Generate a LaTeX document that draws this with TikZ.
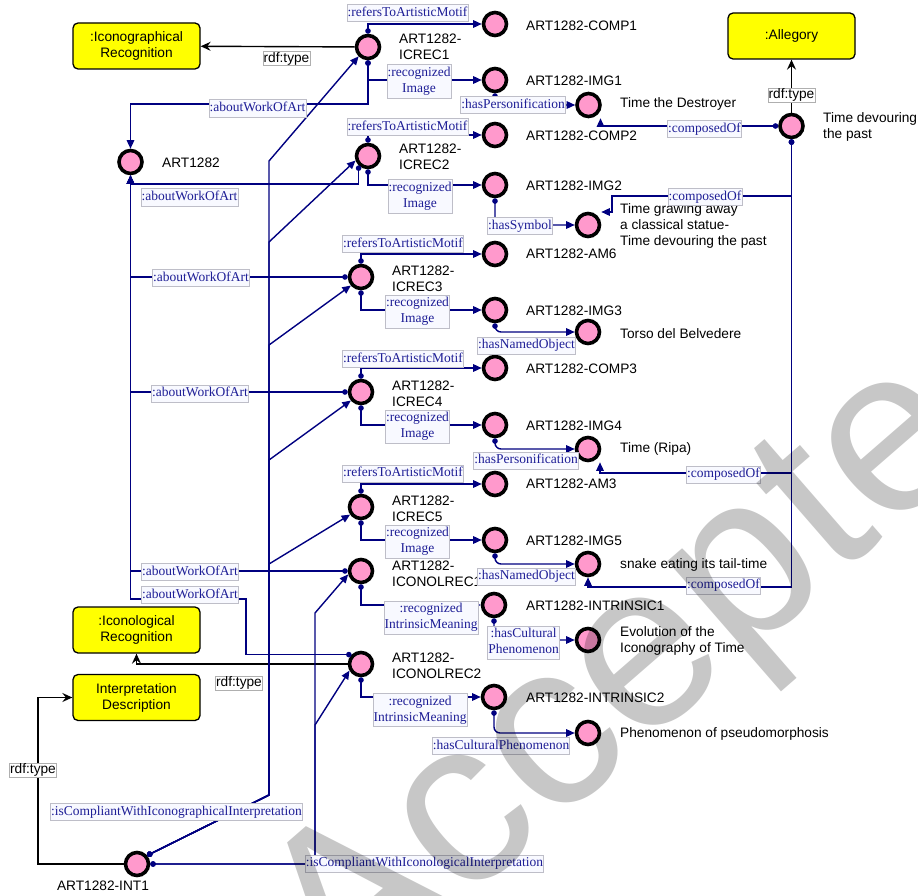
\documentclass[tikz,border=0pt]{standalone}
\usepackage{fontspec}
\setmainfont{Liberation Sans}
\newfontfamily\relfont{Liberation Serif}
\usetikzlibrary{arrows.meta}
\definecolor{nodepink}{RGB}{255,153,204}
\definecolor{classyellow}{RGB}{255,255,0}
\definecolor{relnavy}{RGB}{0,0,128}
\definecolor{reltext}{RGB}{30,30,150}
\definecolor{relbg}{RGB}{248,249,255}
\definecolor{relframe}{RGB}{190,190,200}
\definecolor{typeframe}{RGB}{175,175,175}

\begin{document}
\begin{tikzpicture}[x=1pt,y=-1pt,
  inst/.style={circle, draw=black, line width=3.6pt, fill=nodepink,
    minimum size=23pt, inner sep=0pt},
  cls/.style={draw=black, line width=1.3pt, fill=classyellow,
    rounded corners=5pt, minimum width=127pt, minimum height=46pt,
    align=center, inner sep=0pt, font=\fontsize{13.7}{16}\selectfont},
  itext/.style={anchor=west, align=left, inner sep=0pt,
    font=\fontsize{13.7}{16}\selectfont},
  rel/.style={draw=relnavy, line width=1.4pt,
    {Circle[length=5.5pt]}-{Triangle[length=8.5pt,width=7.5pt]}},
  relr/.style={rel, rounded corners=6pt},
  typ/.style={draw=black, line width=1.4pt,
    -{Stealth[length=10pt,width=9pt,inset=3.5pt]}},
  rlab/.style={draw=relframe, line width=0.8pt, fill=relbg, text=reltext,
    inner sep=0.6pt, align=center,
    font=\relfont\fontsize{13.5}{16}\selectfont},
  tlab/.style={draw=typeframe, line width=0.8pt, fill=white,
    inner sep=0.6pt, font=\fontsize{13.7}{16}\selectfont},
]
\useasboundingbox (0,0) rectangle (918,896);

% ---------- classes ----------
\node[cls] (iconogr)  at (136.5,46)    {:Iconographical\\Recognition};
\node[cls] (allegory) at (791.5,36)    {:Allegory};
\node[cls] (iconolog) at (136.5,630)   {:Iconological\\Recognition};
\node[cls] (interp)   at (136.5,697.5) {Interpretation\\Description};

% ---------- instances ----------
\node[inst] (art)        at (130.5,162) {};
\node[inst] (icrec1)     at (368,47)    {};
\node[inst] (comp1)      at (495,24)    {};
\node[inst] (img1)       at (495,80)    {};
\node[inst] (destroyer)  at (588.5,105) {};
\node[inst] (comp2)      at (495,135)   {};
\node[inst] (icrec2)     at (368,156)   {};
\node[inst] (img2)       at (495,185)   {};
\node[inst] (grawing)    at (588,225)   {};
\node[inst] (devour)     at (791.5,126) {};
\node[inst] (am6)        at (495,254)   {};
\node[inst] (icrec3)     at (361,277)   {};
\node[inst] (img3)       at (495,310)   {};
\node[inst] (torso)      at (588,332)   {};
\node[inst] (comp3)      at (495,368)   {};
\node[inst] (icrec4)     at (361,392)   {};
\node[inst] (img4)       at (495,425)   {};
\node[inst] (ripa)       at (588,449)   {};
\node[inst] (am3)        at (495,484)   {};
\node[inst] (icrec5)     at (361,507)   {};
\node[inst] (img5)       at (495,540)   {};
\node[inst] (snake)      at (588,564)   {};
\node[inst] (iconolrec1) at (361,571)   {};
\node[inst] (intrinsic1) at (494,605)   {};
\node[inst] (evolution)  at (588,640)   {};
\node[inst] (iconolrec2) at (361,664)   {};
\node[inst] (intrinsic2) at (494,697)   {};
\node[inst] (pseudo)     at (588,733)   {};
\node[inst] (int1)       at (137,864)   {};

% ---------- instance names ----------
\node[itext] (t-art)    at (162,162.5) {ART1282};
\node[itext] (t-icrec1) at (399,46.5)  {ART1282-\\ICREC1};
\node[itext] (t-icrec2) at (399,156.5) {ART1282-\\ICREC2};
\node[itext] (t-icrec3) at (392,278.5) {ART1282-\\ICREC3};
\node[itext] (t-icrec4) at (392,393.5) {ART1282-\\ICREC4};
\node[itext] (t-icrec5) at (392,508.5) {ART1282-\\ICREC5};
\node[itext] (t-iconol1) at (392,573.5) {ART1282-\\ICONOLREC1};
\node[itext] (t-iconol2) at (392,665.5) {ART1282-\\ICONOLREC2};
\node[itext] (t-comp1)  at (526,25.5) {ART1282-COMP1};
\node[itext] (t-img1)   at (526,81)   {ART1282-IMG1};
\node[itext] (t-comp2)  at (526,136)  {ART1282-COMP2};
\node[itext] (t-img2)   at (526,186)  {ART1282-IMG2};
\node[itext] (t-am6)    at (526,254)  {ART1282-AM6};
\node[itext] (t-img3)   at (526,311)  {ART1282-IMG3};
\node[itext] (t-comp3)  at (526,369)  {ART1282-COMP3};
\node[itext] (t-img4)   at (526,426)  {ART1282-IMG4};
\node[itext] (t-am3)    at (526,484)  {ART1282-AM3};
\node[itext] (t-img5)   at (526,541)  {ART1282-IMG5};
\node[itext] (t-intr1)  at (526,606)  {ART1282-INTRINSIC1};
\node[itext] (t-intr2)  at (526,698)  {ART1282-INTRINSIC2};
\node[itext] (t-destroyer) at (620,104) {Time the Destroyer};
\node[itext] (t-devour) at (823,127) {Time devouring\\the past};
\node[itext] (t-grawing) at (620,225.5) {Time grawing away\\a classical statue-\\Time devouring the past};
\node[itext] (t-torso)  at (620,334) {Torso del Belvedere};
\node[itext] (t-ripa)   at (620,449) {Time (Ripa)};
\node[itext] (t-snake)  at (620,565) {snake eating its tail-time};
\node[itext] (t-evol)   at (620,641) {Evolution of the\\Iconography of Time};
\node[itext] (t-pseudo) at (620,734) {Phenomenon of pseudomorphosis};
\node[itext, anchor=center] (t-int1) at (103,886) {ART1282-INT1};

% ---------- rdf:type ----------
\draw[typ] (icrec1) -- (iconogr);
\draw[typ] (devour) -- (allegory);
\draw[typ] (iconolrec2) -| (iconolog);
\draw[typ] (int1) -| (38,697.5) -- (interp);

% ---------- iconographical recognitions ----------
\draw[rel] (icrec1.north) |- (comp1);
\draw[rel] (icrec1.south) |- (img1);
\draw[rel] (icrec1.south) -- (icrec1.south |- 0,104) -| (art);
\draw[relr] (img1.south) |- (destroyer);

\draw[rel] (icrec2.north) |- (comp2);
\draw[rel] (icrec2.south) |- (img2);
\draw[rel] (icrec2.-135) -- (icrec2.-135 |- 0,184) -| (art);
\draw[relr] (img2.south) |- (grawing);

\draw[rel] (icrec3) -| (art);
\draw[rel] (icrec3.north) |- (am6);
\draw[rel] (icrec3.south) |- (img3);
\draw[relr] (img3.south) |- (torso);

\draw[rel] (icrec4) -| (art);
\draw[rel] (icrec4.north) |- (comp3);
\draw[rel] (icrec4.south) |- (img4);
\draw[relr] (img4.south) |- (ripa);

\draw[rel] (icrec5.north) |- (am3);
\draw[rel] (icrec5.south) |- (img5);
\draw[relr] (img5.south) |- (snake);

% ---------- iconological recognitions ----------
\draw[rel] (iconolrec1) -| (art);
\draw[rel] (iconolrec1.south) |- (intrinsic1);
\draw[relr] (intrinsic1.south) |- (evolution);
\draw[rel] (iconolrec2.135) -| (246,599) -| (art);
\draw[rel] (iconolrec2.south) |- (intrinsic2);
\draw[relr] (intrinsic2.south) |- (pseudo);

% ---------- allegory composition ----------
\draw[rel] (devour) -| ([xshift=12pt]destroyer.south);
\draw[rel] (devour.south) -- (devour.south |- 0,196) -| (612,212)
  -- ([yshift=13pt]grawing.east);
\draw[rel] (devour.south) -- (devour.south |- 0,473) -| ([xshift=12pt]ripa.south);
\draw[rel] (devour.south) -- (devour.south |- 0,587) -| (snake.south);

% ---------- interpretation ----------
\draw[rel] (int1.40) -- (269,795) -- (269,161) -- (icrec1.-135);
\draw[rel] (int1.40) -- (269,795) -- (269,242) -- (icrec2.-160);
\draw[rel] (int1.40) -- (269,795) -- (269,345) -- (icrec3.-140);
\draw[rel] (int1.40) -- (269,795) -- (269,460) -- (icrec4.-140);
\draw[rel] (int1.40) -- (269,795) -- (269,564) -- (icrec5.-145);
\draw[rel] (int1.east) -- (315,864) -- (315,613) -- (iconolrec1.-165);
\draw[rel] (int1.east) -- (315,864) -- (315,725) -- (iconolrec2.-150);

% ---------- edge labels ----------
\node[tlab] (l-type1) at (286.5,58.5) {rdf:type};
\node[tlab] (l-type2) at (791.5,95)   {rdf:type};
\node[tlab] (l-type3) at (239,683)    {rdf:type};
\node[tlab] (l-type4) at (33,770)     {rdf:type};

\node[rlab] (l-ref1) at (407.5,13)    {\strut:refersToArtisticMotif};
\node[rlab] (l-ref2) at (407.5,127)   {\strut:refersToArtisticMotif};
\node[rlab] (l-ref3) at (403,244)     {\strut:refersToArtisticMotif};
\node[rlab] (l-ref4) at (403,359)     {\strut:refersToArtisticMotif};
\node[rlab] (l-ref5) at (403,473.5)   {\strut:refersToArtisticMotif};

\node[rlab] (l-img1) at (419,81.5)    {\strut:recognized\\\strut Image};
\node[rlab] (l-img2) at (420,196.5)   {\strut:recognized\\\strut Image};
\node[rlab] (l-img3) at (417.5,311.5) {\strut:recognized\\\strut Image};
\node[rlab] (l-img4) at (417.5,426.5) {\strut:recognized\\\strut Image};
\node[rlab] (l-img5) at (417.5,541.5) {\strut:recognized\\\strut Image};

\node[rlab] (l-ab1) at (257.5,108.5) {\strut:aboutWorkOfArt};
\node[rlab] (l-ab2) at (189.5,197.5) {\strut:aboutWorkOfArt};
\node[rlab] (l-ab3) at (201,278)     {\strut:aboutWorkOfArt};
\node[rlab] (l-ab4) at (200,393.5)   {\strut:aboutWorkOfArt};
\node[rlab] (l-ab5) at (190,572)     {\strut:aboutWorkOfArt};
\node[rlab] (l-ab6) at (190,595)     {\strut:aboutWorkOfArt};

\node[rlab] (l-pers1) at (513,105)    {\strut:hasPersonification};
\node[rlab] (l-sym)   at (520,226)    {\strut:hasSymbol};
\node[rlab] (l-obj3)  at (526.5,345.5) {\strut:hasNamedObject};
\node[rlab] (l-pers4) at (526,460.5)  {\strut:hasPersonification};
\node[rlab] (l-obj5)  at (526.5,576.5) {\strut:hasNamedObject};

\node[rlab] (l-cmp1) at (704.5,129)   {\strut:composedOf};
\node[rlab] (l-cmp2) at (705,197)     {\strut:composedOf};
\node[rlab] (l-cmp3) at (723.5,474.5) {\strut:composedOf};
\node[rlab] (l-cmp4) at (723.5,585.5) {\strut:composedOf};

\node[rlab] (l-intr1) at (431,617.5)  {\strut:recognized\\\strut IntrinsicMeaning};
\node[rlab] (l-intr2) at (420,710)    {\strut:recognized\\\strut IntrinsicMeaning};
\node[rlab] (l-cult1) at (523.5,642.5) {\strut:hasCultural\\\strut Phenomenon};
\node[rlab] (l-cult2) at (501,746)    {\strut:hasCulturalPhenomenon};

\node[rlab] (l-icg) at (176.5,812)   {\strut:isCompliantWithIconographicalInterpretation};
\node[rlab] (l-icl) at (424.5,863.5) {\strut:isCompliantWithIconologicalInterpretation};

% ---------- watermark ----------
\node[rotate=41, text=black, text opacity=0.22, inner sep=0pt,
  font=\fontsize{235}{235}\selectfont] (stamp) at (673,641) {Accepted};
\end{tikzpicture}
\end{document}
